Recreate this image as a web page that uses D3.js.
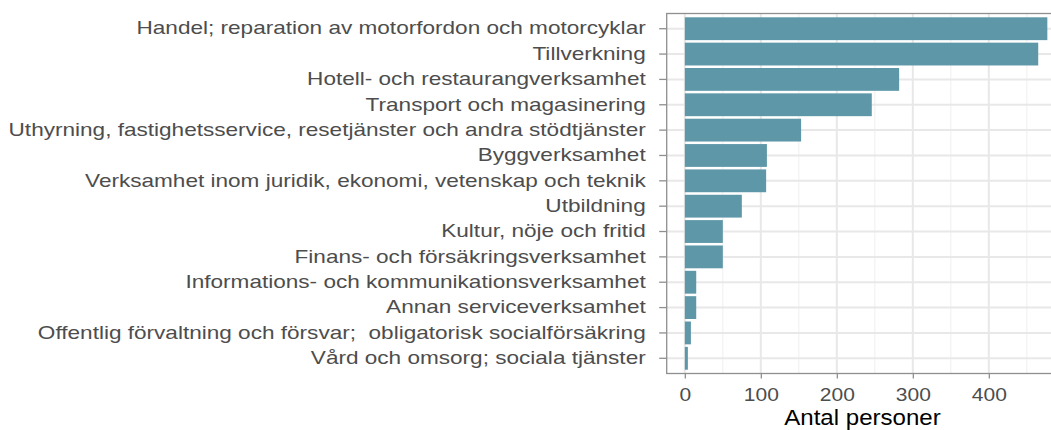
<!DOCTYPE html>
<html>
<head>
<meta charset="utf-8">
<script src="https://cdn.jsdelivr.net/npm/d3@7"></script>
<style>
  html, body { margin: 0; padding: 0; background: #fff; }
  svg { display: block; font-family: "Liberation Sans", Arial, sans-serif; }
  svg text { white-space: pre; }
</style>
</head>
<body>
<div id="chart"></div>
<script>
// Antal personer per bransch (horisontellt stapeldiagram)
const categories = [
  'Handel; reparation av motorfordon och motorcyklar',
  'Tillverkning',
  'Hotell- och restaurangverksamhet',
  'Transport och magasinering',
  'Uthyrning, fastighetsservice, resetjänster och andra stödtjänster',
  'Byggverksamhet',
  'Verksamhet inom juridik, ekonomi, vetenskap och teknik',
  'Utbildning',
  'Kultur, nöje och fritid',
  'Finans- och försäkringsverksamhet',
  'Informations- och kommunikationsverksamhet',
  'Annan serviceverksamhet',
  'Offentlig förvaltning och försvar;  obligatorisk socialförsäkring',
  'Vård och omsorg; sociala tjänster'
];
const values = [477, 465, 282, 246, 153, 108, 107, 75, 50, 50, 15, 15, 8, 4];
const xTicks = [0, 100, 200, 300, 400];
const xTitle = 'Antal personer';

(function(){
  const W = 1051, H = 430;
  const m = {left: 666.7, top: 13.5, bottom: 56.5};
  const stretch = 1.29; // text looks horizontally stretched in the original

  const svg = d3.select('#chart').append('svg').attr('width', W).attr('height', H);

  const xMax = d3.max(values), pad = xMax * 0.05;
  const pxPerUnit = 0.76;
  const x = d3.scaleLinear()
    .domain([-pad, xMax + pad])
    .range([m.left, m.left + (xMax + 2 * pad) * pxPerUnit]);
  const y = d3.scaleBand()
    .domain(categories)
    .range([m.top, H - m.bottom])
    .paddingInner(0.1)
    .paddingOuter(0.15);

  const x0 = x.range()[0], x1 = x.range()[1];
  const y0 = m.top, y1 = H - m.bottom;

  // grid
  const grid = svg.append('g');
  const minor = d3.range(50, xMax + pad, 100);
  grid.selectAll('line.minor').data(minor).enter().append('line')
    .attr('x1', d => x(d)).attr('x2', d => x(d)).attr('y1', y0).attr('y2', y1)
    .attr('stroke', '#efefef').attr('stroke-width', 1);
  grid.selectAll('line.vmaj').data(x.ticks(5).filter(d => d >= 0)).enter().append('line')
    .attr('x1', d => x(d)).attr('x2', d => x(d)).attr('y1', y0).attr('y2', y1)
    .attr('stroke', '#e8e8e8').attr('stroke-width', 2);
  grid.selectAll('line.hmaj').data(categories).enter().append('line')
    .attr('x1', x0).attr('x2', x1)
    .attr('y1', d => y(d) + y.bandwidth() / 2).attr('y2', d => y(d) + y.bandwidth() / 2)
    .attr('stroke', '#e8e8e8').attr('stroke-width', 2);

  // bars
  svg.append('g').selectAll('rect').data(values).enter().append('rect')
    .attr('x', x(0))
    .attr('y', (d, i) => y(categories[i]))
    .attr('width', d => x(d) - x(0))
    .attr('height', y.bandwidth())
    .attr('fill', '#5e97a8');

  // panel border
  svg.append('rect').attr('x', x0).attr('y', y0).attr('width', x1 - x0).attr('height', y1 - y0)
    .attr('fill', 'none').attr('stroke', '#8f8f8f').attr('stroke-width', 1.3);

  // y axis
  const ya = svg.append('g').attr('transform', `translate(${x0},0)`)
    .call(d3.axisLeft(y).tickSize(7.5).tickPadding(0));
  ya.select('.domain').remove();
  ya.selectAll('.tick line').attr('stroke', '#8f8f8f').attr('stroke-width', 1.3);
  ya.selectAll('.tick text')
    .attr('x', 0).attr('dy', '0.33em')
    .attr('transform', `translate(-21,0) scale(${stretch},1)`)
    .attr('fill', '#4d4d4d').attr('font-size', '17.5px')
    .style('font-family', '"Liberation Sans", Arial, sans-serif');

  // x axis
  const xa = svg.append('g').attr('transform', `translate(0,${y1})`)
    .call(d3.axisBottom(x).tickValues(xTicks).tickSize(5).tickPadding(0));
  xa.select('.domain').remove();
  xa.selectAll('.tick line').attr('stroke', '#8f8f8f').attr('stroke-width', 1.3);
  xa.selectAll('.tick text')
    .attr('y', 0).attr('dy', 0)
    .attr('transform', `translate(0,27.5) scale(1.2,1)`)
    .attr('fill', '#4d4d4d').attr('font-size', '17.5px')
    .style('font-family', '"Liberation Sans", Arial, sans-serif');

  svg.append('text')
    .attr('transform', `translate(${(783 + 942) / 2},425) scale(1.12,1)`)
    .attr('text-anchor', 'middle')
    .attr('font-size', '21.5px').attr('fill', '#000')
    .text(xTitle);
})();
</script>
</body>
</html>
